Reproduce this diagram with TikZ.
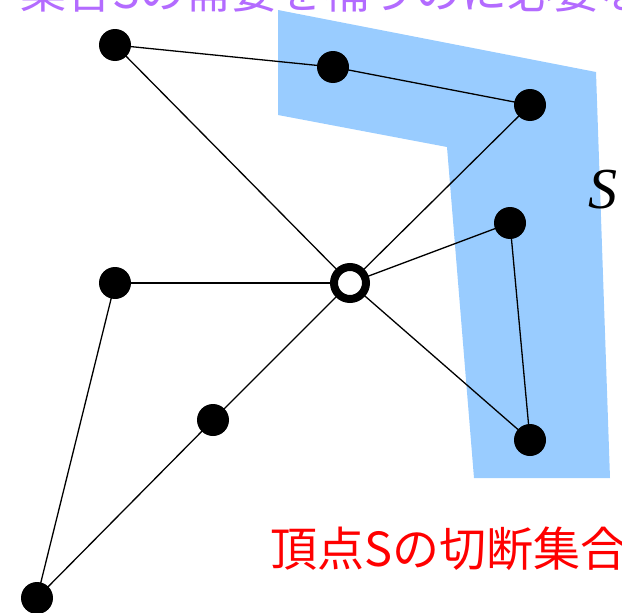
\documentclass[tikz,border=0pt]{standalone}
\usepackage{fontspec}
\newfontfamily\cjk{Noto Sans CJK JP}
\newfontfamily\timesfam{Liberation Serif}
\definecolor{areablue}{HTML}{99CCFF}
\definecolor{toppurple}{HTML}{B36BFF}
\begin{document}
\begin{tikzpicture}[x=1pt,y=-1pt,
  vtx/.style={circle,fill=black,inner sep=0pt,minimum size=32pt},
  hub/.style={circle,draw=black,line width=8pt,fill=white,inner sep=0pt,minimum size=32pt},
  edge/.style={draw=black,line width=1.3pt}]
\useasboundingbox (0,0) rectangle (622,613);
\clip (0,0) rectangle (622,613);
\fill[areablue] (278,10) -- (596,72) -- (610,478) -- (474,478) -- (447,147) -- (278,115) -- cycle;
\node[anchor=base west,text=toppurple,inner sep=0pt] (top) at (20,9) {\cjk\fontsize{46}{50}\selectfont 集合Sの需要を補うのに必要な};
\node[anchor=base west,text=red,inner sep=0pt] (cut) at (270,566) {\cjk\fontsize{47}{50}\selectfont 頂点Sの切断集合};
\node[anchor=base west,inner sep=0pt] (Slab) at (588,208) {\timesfam\itshape\fontsize{58}{62}\selectfont S};
\coordinate (Ap) at (115,45);
\coordinate (Bp) at (333,67);
\coordinate (Cp) at (530,105);
\coordinate (Dp) at (510,223);
\coordinate (Ep) at (530,440);
\coordinate (Sp) at (350,283);
\coordinate (Fp) at (115,283);
\coordinate (Gp) at (213,420);
\coordinate (Hp) at (37,598);
\draw[edge] (Ap) -- (Bp);
\draw[edge] (Bp) -- (Cp);
\draw[edge] (Ap) -- (Sp);
\draw[edge] (Cp) -- (Sp);
\draw[edge] (Dp) -- (Sp);
\draw[edge] (Dp) -- (Ep);
\draw[edge] (Ep) -- (Sp);
\draw[edge] (Fp) -- (Sp);
\draw[edge] (Fp) -- (Hp);
\draw[edge] (Hp) -- (Gp);
\draw[edge] (Gp) -- (Sp);
\node[vtx] (A) at (Ap) {};
\node[vtx] (B) at (Bp) {};
\node[vtx] (C) at (Cp) {};
\node[vtx] (D) at (Dp) {};
\node[vtx] (E) at (Ep) {};
\node[vtx] (F) at (Fp) {};
\node[vtx] (G) at (Gp) {};
\node[vtx] (H) at (Hp) {};
\node[hub] (s) at (Sp) {};
\end{tikzpicture}
\end{document}
